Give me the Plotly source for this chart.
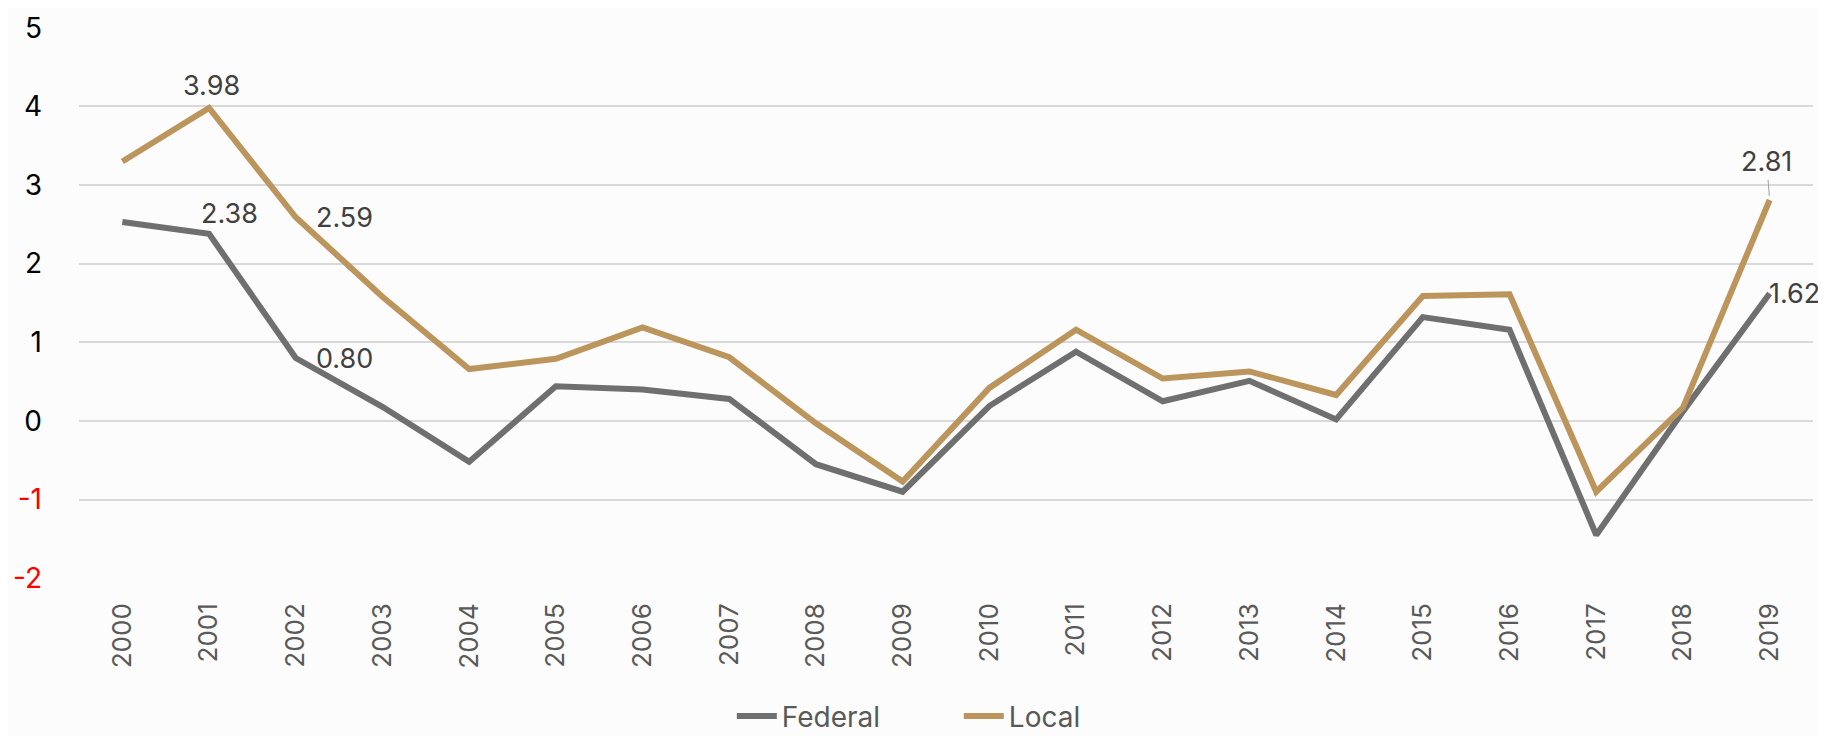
import plotly.graph_objects as go

years = [str(y) for y in range(2000, 2020)]
federal = [2.53, 2.38, 0.80, 0.18, -0.52, 0.44, 0.40, 0.28, -0.55, -0.90,
           0.19, 0.88, 0.25, 0.51, 0.02, 1.32, 1.16, -1.45, 0.12, 1.62]
local = [3.30, 3.98, 2.59, 1.58, 0.66, 0.79, 1.19, 0.81, -0.03, -0.77,
         0.42, 1.16, 0.54, 0.63, 0.33, 1.59, 1.61, -0.90, 0.17, 2.81]
y_ticks = [-2, -1, 0, 1, 2, 3, 4, 5]
y_ticktext = [f'<span style="color:#ff0000">{v}</span>' if v < 0 else str(v) for v in y_ticks]

FONT = "Inter"
GRAY = "#6f6f70"
GOLD = "#bc955c"
LABEL = "#404040"

fig = go.Figure()
fig.add_trace(go.Scatter(x=years, y=federal, name="Federal", mode="lines",
                         line=dict(color=GRAY, width=6)))
fig.add_trace(go.Scatter(x=years, y=local, name="Local", mode="lines",
                         line=dict(color=GOLD, width=6)))

def lab(series, i, **kw):
    d = dict(x=i, y=series[i], text=f"{series[i]:.2f}", showarrow=False,
             xref="x", yref="y", font=dict(family=FONT, size=27, color=LABEL))
    d.update(kw)
    fig.add_annotation(**d)

lab(local, 1, xanchor="center", yanchor="bottom", yshift=4, xshift=2)
lab(federal, 1, xanchor="center", yanchor="middle", xshift=20, yshift=20)
lab(local, 2, xanchor="left", yanchor="middle", xshift=18)
lab(federal, 2, xanchor="left", yanchor="middle", xshift=18)
lab(federal, 19, xanchor="right", yanchor="middle", xshift=52)
fig.add_annotation(x=19, y=local[19], text=f"{local[19]:.2f}", showarrow=True,
                   ax=-3, ay=-38, arrowhead=0, arrowwidth=1, arrowcolor="#a0a0a0",
                   standoff=4, xref="x", yref="y",
                   font=dict(family=FONT, size=27, color=LABEL))

fig.update_layout(
    width=1818, height=728,
    margin=dict(l=71, r=13, t=19, b=157, autoexpand=False),
    paper_bgcolor="#fcfcfc", plot_bgcolor="rgba(0,0,0,0)",
    font=dict(family=FONT, size=26, color="#000000"),
    showlegend=True,
    legend=dict(orientation="h", x=0.523, xanchor="center", xref="container",
                y=0.027, yanchor="middle", yref="container",
                font=dict(family=FONT, size=28, color="#595959"),
                bgcolor="rgba(0,0,0,0)", itemwidth=40,
                entrywidth=172, entrywidthmode="pixels"),
    xaxis=dict(type="category", range=[-0.5, 19.5], showgrid=False, zeroline=False,
               showline=False, tickangle=-90, ticklabelstandoff=18, automargin=False,
               tickfont=dict(family=FONT, size=26, color="#595959")),
    yaxis=dict(range=[-2.01, 5.01], tickvals=y_ticks, ticktext=y_ticktext,
               showgrid=True, gridcolor="#d9d9d9", gridwidth=1.5,
               zeroline=True, zerolinecolor="#d9d9d9", zerolinewidth=1.5,
               showline=False, ticklabelstandoff=36, automargin=False,
               tickfont=dict(family=FONT, size=28, color="#000000")),
)

fig.write_html("out.html")
